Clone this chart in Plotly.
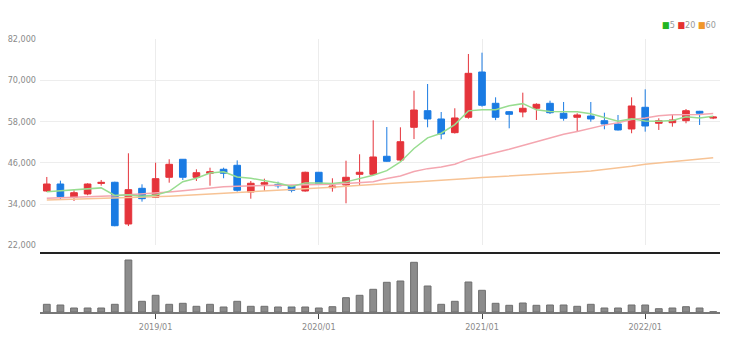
import pandas as pd
import plotly.graph_objects as go

months = [d.strftime("%Y/%m") for d in pd.date_range("2018-05-01", "2022-06-01", freq="MS")]

opens = [37800, 39830, 35970, 36930, 40000, 40330, 28200, 38580, 35970, 41780,
         47020, 41780, 42950, 44110, 45270, 37500, 39750, 39630, 39250, 37800,
         43240, 38760, 39540, 42650, 42650, 47890, 46810, 56320, 61150, 58740,
         54760, 59230, 72400, 63300, 60860, 60770, 61850, 63300, 60400, 59230,
         59600, 58240, 57280, 55830, 62140, 57490, 57660, 58240, 60970, 59000]
highs = [41870, 40800, 38000, 40030, 41000, 40500, 48760, 39740, 46030, 47020,
         47100, 44100, 44570, 44570, 46700, 40700, 41380, 40500, 39400, 43420,
         43300, 41490, 46610, 48470, 58350, 56400, 56320, 66970, 68910, 60770,
         61850, 77640, 78020, 65040, 61060, 66390, 63300, 64060, 63680, 60400,
         63680, 60570, 59900, 65040, 67370, 58940, 59900, 61640, 61100, 59600]
lows = [37500, 35470, 34900, 36550, 39350, 27530, 27600, 34700, 35850, 40210,
        41000, 40710, 39340, 41500, 37600, 35560, 37800, 38580, 37400, 37600,
        39540, 37600, 34220, 39540, 42360, 46300, 46440, 52900, 56320, 52830,
        54500, 58820, 62310, 58400, 56030, 59230, 58450, 60190, 58240, 55050,
        57950, 55740, 55400, 54580, 55050, 55540, 56500, 57490, 57000, 58700]
closes = [39830, 36140, 37300, 39830, 40300, 27700, 38180, 35560, 41380, 45560,
          41780, 43120, 43400, 42950, 38000, 40040, 40200, 39340, 38000, 43240,
          39920, 39250, 41780, 43240, 47690, 46440, 52130, 61350, 58740, 54370,
          59030, 72020, 62720, 59230, 60100, 61850, 63010, 60570, 58940, 59900,
          58740, 57280, 55540, 62520, 56700, 58240, 58450, 61150, 60400, 59300]

ma5 = [37600, 37900, 38100, 38600, 38700, 36500, 36700, 36300, 36600, 37700,
       40500, 41500, 43000, 43400, 41850, 41500, 40900, 40100, 39100, 40150,
       40150, 39950, 40450, 41500, 42400, 43700, 46250, 50150, 53250, 54600,
       57100, 61100, 61400, 61450, 62600, 63200, 61400, 60950, 60900, 60850,
       60250, 59100, 58100, 58800, 58150, 58050, 58300, 59400, 59000, 59500]
ma20 = [35700, 35800, 35900, 36100, 36300, 36400, 36700, 36900, 37100, 37500,
        37900, 38300, 38700, 39000, 39200, 39350, 39450, 39500, 39550, 39600,
        39600, 39750, 39950, 40150, 40500, 41450, 42150, 43450, 44300, 44750,
        45600, 47050, 48000, 48850, 49950, 51050, 52150, 53250, 54300, 55100,
        56050, 56950, 57650, 58600, 59050, 59650, 59950, 59950, 60050, 60300]
ma60 = [35200, 35300, 35400, 35500, 35600, 35700, 35800, 35950, 36100, 36300,
        36500, 36700, 36900, 37100, 37300, 37600, 37800, 38000, 38200, 38500,
        38700, 38900, 39200, 39500, 39800, 40000, 40200, 40400, 40600, 40800,
        41100, 41400, 41700, 41900, 42200, 42400, 42600, 42800, 43000, 43300,
        43600, 44000, 44500, 45000, 45600, 46000, 46400, 46800, 47100, 47500]
volume = [7.7, 7.0, 4.0, 4.0, 4.0, 7.7, 52.0, 10.7, 16.7, 7.7,
          8.7, 5.7, 7.7, 5.0, 10.7, 5.7, 5.7, 5.0, 5.0, 5.0,
          4.0, 5.3, 14.3, 16.7, 22.7, 29.7, 31.0, 49.7, 26.0, 7.7,
          10.7, 30.0, 21.7, 8.7, 6.7, 9.0, 6.7, 7.0, 7.0, 5.7,
          7.7, 4.0, 4.0, 7.0, 7.0, 3.3, 4.0, 5.3, 4.0, 0.3]

year_ticks = ["2019/01", "2020/01", "2021/01", "2022/01"]
ytick_vals = [22000, 34000, 46000, 58000, 70000, 82000]

RED = "#e5343b"
BLUE = "#1a7be3"
FONT = "DejaVu Sans Condensed, Liberation Sans, Arial, sans-serif"

fig = go.Figure()
fig.add_trace(go.Scatter(x=months, y=ma60, mode="lines", line=dict(color="#f7c395", width=1.5),
                         xaxis="x", yaxis="y", showlegend=False, hoverinfo="skip"))
fig.add_trace(go.Scatter(x=months, y=ma20, mode="lines", line=dict(color="#f4a6b0", width=1.5),
                         xaxis="x", yaxis="y", showlegend=False, hoverinfo="skip"))
fig.add_trace(go.Scatter(x=months, y=ma5, mode="lines", line=dict(color="#98dd90", width=1.5),
                         xaxis="x", yaxis="y", showlegend=False, hoverinfo="skip"))
fig.add_trace(go.Candlestick(x=months, open=opens, high=highs, low=lows, close=closes,
                             increasing=dict(line=dict(color=RED, width=1), fillcolor=RED),
                             decreasing=dict(line=dict(color=BLUE, width=1), fillcolor=BLUE),
                             whiskerwidth=0, xaxis="x", yaxis="y", showlegend=False))
fig.add_trace(go.Bar(x=months, y=volume, width=0.5,
                     marker=dict(color="#8c8c8c", line=dict(color="#6e6e6e", width=1)),
                     xaxis="x2", yaxis="y2", showlegend=False))

fig.update_layout(
    width=735, height=351,
    margin=dict(l=40, r=15, t=39, b=39),
    paper_bgcolor="white", plot_bgcolor="white",
    font=dict(family=FONT, size=9, color="#8a8a8a"),
    xaxis=dict(type="category", range=[-0.5, 49.5], domain=[0, 1], anchor="y",
               showticklabels=False, tickvals=year_ticks, showgrid=True,
               gridcolor="#ececec", gridwidth=1, zeroline=False, showline=False,
               rangeslider=dict(visible=False), ticks="", automargin=False),
    yaxis=dict(domain=[0.2443, 1], range=[22000, 82000], tickvals=ytick_vals,
               tickformat=",", showgrid=True, gridcolor="#ededed", gridwidth=1,
               zeroline=False, ticks="", ticklabelstandoff=3, automargin=False,
               tickfont=dict(family=FONT, size=9, color="#8a8a8a")),
    xaxis2=dict(type="category", range=[-0.5, 49.5], domain=[0, 1], anchor="y2",
                matches="x", tickvals=year_ticks, ticktext=year_ticks,
                ticks="outside", ticklen=5, tickcolor="#444", tickwidth=1,
                showline=True, linecolor="#777", linewidth=2, showgrid=False,
                automargin=False,
                tickfont=dict(family=FONT, size=9, color="#8a8a8a")),
    yaxis2=dict(domain=[0, 0.2161], range=[0, 59], showticklabels=False,
                showgrid=False, zeroline=False, ticks="", automargin=False),
    bargap=0.5,
    shapes=[dict(type="line", xref="paper", yref="paper", x0=0, x1=1,
                 y0=0.2161, y1=0.2161, line=dict(color="#222", width=2))],
    annotations=[dict(xref="paper", yref="paper", x=0.997, y=1.05, xanchor="right",
                      yanchor="middle", showarrow=False,
                      font=dict(family=FONT, size=9, color="#999"),
                      text="<span style='color:#22b522'>■</span>5 "
                           "<span style='color:#e53030'>■</span>20 "
                           "<span style='color:#f0962a'>■</span>60")],
)

fig.write_html("out.html")
